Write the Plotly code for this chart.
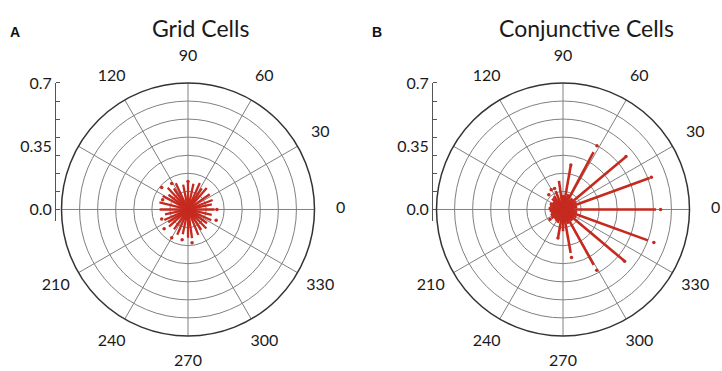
import plotly.graph_objects as go

# ---------------- data ----------------
# Grid cells: preferred direction (deg) and mean vector length
grid_theta = [0, 12, 21, 35, 49, 57, 66, 78, 90, 101, 115, 124, 133, 143, 152, 166,
              180, 192, 204, 213, 222, 235, 247, 258, 270, 278, 292, 303, 314, 324, 335, 347]
grid_r = [0.147, 0.135, 0.146, 0.147, 0.158, 0.14, 0.16, 0.145, 0.147, 0.14, 0.16, 0.14,
          0.165, 0.135, 0.159, 0.163, 0.157, 0.13, 0.144, 0.13, 0.141, 0.135, 0.152, 0.14,
          0.157, 0.16, 0.152, 0.135, 0.146, 0.13, 0.142, 0.135]
grid_dot_theta = [140, 122, 159, 219, 240, 259, 277, 339, 0, 90, 200]
grid_dot_r = [0.19, 0.17, 0.15, 0.17, 0.18, 0.17, 0.185, 0.167, 0.16, 0.155, 0.155]

# Conjunctive cells
conj_theta = [0, 20, 40, 62, 80, 98, 112, 340, 320, 299, 280, 260, 270,
              10, 30, 50, 70, 90, 125, 135, 145, 155, 165, 175, 185, 195, 205, 217, 228,
              238, 248, 290, 310, 330, 350]
conj_r = [0.515, 0.51, 0.45, 0.36, 0.245, 0.16, 0.11, 0.50, 0.44, 0.35, 0.245, 0.155, 0.12,
          0.08, 0.085, 0.08, 0.09, 0.08, 0.09, 0.085, 0.07, 0.08, 0.075, 0.08, 0.075, 0.07,
          0.075, 0.08, 0.07, 0.075, 0.08, 0.085, 0.08, 0.085, 0.08]
conj_dot_theta = [0, 20, 40, 62, 80, 340, 320, 299, 280, 121, 134, 112, 217, 260]
conj_dot_r = [0.54, 0.52, 0.455, 0.40, 0.25, 0.535, 0.445, 0.385, 0.27, 0.127, 0.113, 0.125, 0.09, 0.16]

angle_ticks = [0, 30, 60, 90, 120, 150, 180, 210, 240, 270, 300, 330]
angle_labels = ["0", "30", "60", "90", "120", "", "", "210", "240", "270", "300", "330"]
ring_ticks = [0.1, 0.2, 0.3, 0.4, 0.5, 0.6, 0.7]
side_tickvals = [0.0, 0.35, 0.7]
side_ticktext = ["0.0", "0.35", "0.7"]
side_minor = [0.0, 0.1, 0.2, 0.3, 0.4, 0.5, 0.6, 0.7]
titles = ["Grid Cells", "Conjunctive Cells"]
panel_letters = ["A", "B"]

# ---------------- figure ----------------
W, H = 722, 371
RED = "#c62a1f"
FONT = "Lato, 'Open Sans', sans-serif"
R_MAX = 0.7
LABEL_R = 0.845   # radius (data units) where angular labels sit
LABEL_RMAX = 0.855  # range of the transparent label overlay polar

centers = [(188, 205), (563, 205)]
axis_x = [56, 433]
RAD = 130                     # px radius of the data circle
scale = RAD / R_MAX           # px per data unit
spoke_widths = [2.3, 2.6]


def spokes(theta, r):
    rr, tt = [], []
    for a, l in zip(theta, r):
        rr += [0, l, None]
        tt += [a, a, None]
    return rr, tt


fig = go.Figure()
for sub, lsub, lw, (th, rv, dth, dr) in zip(
        ["polar", "polar2"], ["polar3", "polar4"], spoke_widths,
        [(grid_theta, grid_r, grid_dot_theta, grid_dot_r),
         (conj_theta, conj_r, conj_dot_theta, conj_dot_r)]):
    rr, tt = spokes(th, rv)
    fig.add_trace(go.Scatterpolar(r=rr, theta=tt, mode="lines", subplot=sub,
                                  line=dict(color=RED, width=lw), showlegend=False,
                                  hoverinfo="skip"))
    fig.add_trace(go.Scatterpolar(r=dr, theta=dth, mode="markers", subplot=sub,
                                  marker=dict(color=RED, size=3.5), showlegend=False))
    # angular tick labels on a transparent overlay polar with the same scale
    fig.add_trace(go.Scatterpolar(r=[LABEL_R] * len(angle_ticks), theta=angle_ticks,
                                  text=angle_labels, mode="text", subplot=lsub,
                                  cliponaxis=False, textposition="middle center",
                                  textfont=dict(size=16, family=FONT, color="#1a1a1a"),
                                  showlegend=False, hoverinfo="skip"))

# empty traces so the side (radial scale) axes get drawn
fig.add_trace(go.Scatter(x=[], y=[], xaxis="x", yaxis="y", showlegend=False))
fig.add_trace(go.Scatter(x=[], y=[], xaxis="x2", yaxis="y2", showlegend=False))


def polar_layout(cx, cy):
    return dict(
        domain=dict(x=[(cx - RAD) / W, (cx + RAD) / W],
                    y=[(H - cy - RAD) / H, (H - cy + RAD) / H]),
        bgcolor="rgba(0,0,0,0)",
        radialaxis=dict(range=[0, R_MAX], tickvals=ring_ticks, showticklabels=False,
                        ticks="", showline=False, gridcolor="#808080", gridwidth=1),
        angularaxis=dict(tickvals=angle_ticks, showticklabels=False,
                         direction="counterclockwise", rotation=0,
                         showline=True, linecolor="#333333", linewidth=1.5,
                         gridcolor="#808080", gridwidth=1, ticks=""),
    )


def label_polar_layout(cx, cy):
    rad = LABEL_RMAX * scale
    return dict(
        domain=dict(x=[(cx - rad) / W, (cx + rad) / W],
                    y=[(H - cy - rad) / H, (H - cy + rad) / H]),
        bgcolor="rgba(0,0,0,0)",
        radialaxis=dict(range=[0, LABEL_RMAX], visible=False, showgrid=False),
        angularaxis=dict(visible=False, showgrid=False, showline=False,
                         direction="counterclockwise", rotation=0),
    )


ext = 0.065


def side_axis(cy, xname):
    y0 = H - cy
    return dict(domain=[(y0 - ext * scale) / H, (y0 + RAD) / H], range=[-ext, R_MAX],
                anchor=xname, side="left", showgrid=False,
                zeroline=False, showline=True, linecolor="#555555", linewidth=1,
                tickvals=side_tickvals, ticktext=side_ticktext, ticks="",
                minor=dict(tickvals=side_minor, ticks="inside", ticklen=4,
                           tickcolor="#555555", showgrid=False),
                tickfont=dict(size=16, family=FONT, color="#1a1a1a"), fixedrange=True)


def x_axis(xpx, yname):
    return dict(visible=False, domain=[xpx / W, (xpx + 20) / W], anchor=yname,
                fixedrange=True, range=[0, 1])


annotations = []
for title, letter, tx, lx in zip(titles, panel_letters, [200, 586], [15, 377]):
    annotations.append(dict(text=title, x=tx / W, y=(H - 19) / H, xref="paper", yref="paper",
                            showarrow=False, xanchor="center", yanchor="middle",
                            font=dict(size=23, family=FONT, color="#1a1a1a")))
    annotations.append(dict(text="<b>" + letter + "</b>", x=lx / W, y=(H - 23) / H,
                            xref="paper", yref="paper", showarrow=False,
                            xanchor="center", yanchor="middle",
                            font=dict(size=14, family="Liberation Sans, Arial", color="#111")))

fig.update_layout(
    width=W, height=H, margin=dict(l=0, r=0, t=0, b=0),
    paper_bgcolor="white", plot_bgcolor="rgba(0,0,0,0)",
    polar=polar_layout(*centers[0]),
    polar2=polar_layout(*centers[1]),
    polar3=label_polar_layout(*centers[0]),
    polar4=label_polar_layout(*centers[1]),
    xaxis=x_axis(axis_x[0], "y"),
    xaxis2=x_axis(axis_x[1], "y2"),
    yaxis=side_axis(centers[0][1], "x"),
    yaxis2=side_axis(centers[1][1], "x2"),
    annotations=annotations,
    showlegend=False,
)

fig.write_html("out.html")
